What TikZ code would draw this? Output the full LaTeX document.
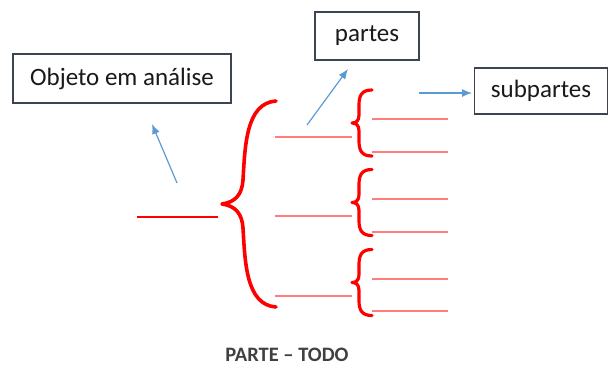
\documentclass[tikz,border=0pt]{standalone}
\usepackage{fontspec}
\setmainfont{Carlito}
\usetikzlibrary{arrows.meta}
\definecolor{caixa}{RGB}{60,68,82}
\definecolor{seta}{RGB}{91,155,213}
\definecolor{rosa}{RGB}{255,125,125}
\definecolor{cinza}{RGB}{64,64,64}
\tikzset{>={Latex[length=10pt,width=8pt]}}
\tikzset{
  caixa/.style={draw=caixa,line width=1.3pt,inner sep=0pt,text=black!90,font=\fontsize{25}{30}\selectfont},
  chave/.style={draw=red,line cap=round,line join=round},
  traco/.style={draw=rosa,line width=2pt},
  seta/.style={draw=seta,line width=1.2pt,->}
}

\begin{document}
\begin{tikzpicture}[x=1pt,y=-1pt]
            \useasboundingbox (0,0) rectangle (609,367);
            % caixas
            \node[caixa,minimum width=218pt,minimum height=49pt] (objeto) at (122,78.5) {Objeto em análise};
            \node[caixa,minimum width=104pt,minimum height=48pt] (partes) at (367,36) {partes};
            \node[caixa,minimum width=133pt,minimum height=46pt] (subpartes) at (541,91) {subpartes};
            \node[inner sep=0pt,text=cinza,font=\bfseries\fontsize{20.5}{24}\selectfont] (titulo) at (287,355) {PARTE -- TODO};
            % objeto
            \draw[red,line width=2.8pt] (137,217) -- (218,217);
            % chave grande
            \draw[chave,line width=3.6pt] (276,101) .. controls (246,103) and (245,146) .. (243,180)
                .. controls (242,194) and (236,202) .. (222,204)
                .. controls (236,206) and (242,214) .. (243,228)
                .. controls (245,262) and (246,305) .. (276,307);
            % partes
            \draw[traco] (275,137) -- (352,137);
            \draw[traco] (275,216) -- (352,216);
            \draw[traco] (275,296) -- (352,296);
            % chaves pequenas
            \draw[chave,line width=3.2pt,shift={(0,123)}] (372,-33) .. controls (362,-33) and (359,-28) .. (359,-18)
                -- (359,-8) .. controls (359,-2) and (356,0) .. (352,0) .. controls (356,0) and (359,2) .. (359,8)
                -- (359,18) .. controls (359,28) and (362,33) .. (372,33);
            \draw[chave,line width=3.2pt,shift={(0,202.5)}] (372,-33) .. controls (362,-33) and (359,-28) .. (359,-18)
                -- (359,-8) .. controls (359,-2) and (356,0) .. (352,0) .. controls (356,0) and (359,2) .. (359,8)
                -- (359,18) .. controls (359,28) and (362,33) .. (372,33);
            \draw[chave,line width=3.2pt,shift={(0,282.5)}] (372,-33) .. controls (362,-33) and (359,-28) .. (359,-18)
                -- (359,-8) .. controls (359,-2) and (356,0) .. (352,0) .. controls (356,0) and (359,2) .. (359,8)
                -- (359,18) .. controls (359,28) and (362,33) .. (372,33);
            % subpartes
            \draw[traco] (372,119) -- (448,119);
            \draw[traco] (372,152) -- (448,152);
            \draw[traco] (372,199) -- (448,199);
            \draw[traco] (372,232) -- (448,232);
            \draw[traco] (372,279) -- (448,279);
            \draw[traco] (372,311) -- (448,311);
            % setas
            \coordinate (s1a) at (177,183);
            \coordinate (s1b) at (152,124);
            \coordinate (s2a) at (307,125);
            \coordinate (s2b) at (348,69);
            \coordinate (s3a) at (419,93);
            \coordinate (s3b) at (472,93);
            \draw[seta] (s1a) -- (s1b);
            \draw[seta] (s2a) -- (s2b);
            \draw[seta] (s3a) -- (s3b);
        \end{tikzpicture}
\end{document}
